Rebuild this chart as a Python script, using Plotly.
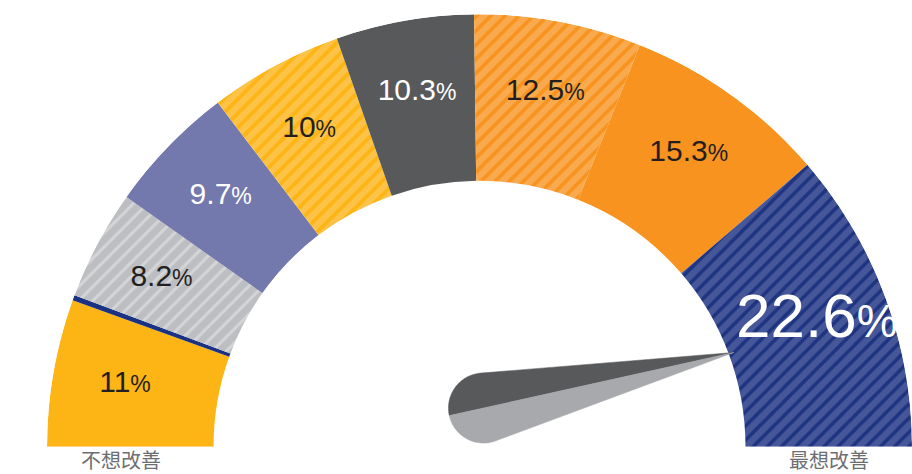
import numpy as np
import plotly.graph_objects as go

# Share of respondents per level, from "least" to "most" wanting improvement
labels = ["11%", "0.4%", "8.2%", "9.7%", "10%", "10.3%", "12.5%", "15.3%", "22.6%"]
values = [11, 0.4, 8.2, 9.7, 10, 10.3, 12.5, 15.3, 22.6]

base_colors = ["#FDB515", "#1B3182", "#D4D5D7", "#7479AD", "#FDB515",
               "#58595B", "#F7931E", "#F7931E", "#1E3481"]
stripe_colors = [None, None, "#A6A8AB", None, "#FED27E",
                 None, "#FBC27E", None, "#6E7AB1"]
stripe_solidity = [0, 0, 0.7, 0, 0.6, 0, 0.62, 0, 0.65]
text_colors = ["#231F20", "#58595B", "#231F20", "#FFFFFF", "#231F20",
               "#FFFFFF", "#231F20", "#231F20", "#FFFFFF"]
end_labels = ["不想改善", "最想改善"]

INNER = 0.615          # inner radius of the band (fraction of outer radius)
LABEL_R = 0.832        # radius where the value labels sit
OUTSIDE_R = 1.083      # radius for labels of very thin segments

vals = np.array(values, dtype=float)
spans = 180.0 * vals / vals.sum()
centers = np.cumsum(spans) - spans / 2

fig = go.Figure()

# Gauge band, one trace per segment so each gets its own hatch
for i in range(len(vals)):
    marker = dict(color=base_colors[i], line=dict(width=0))
    if stripe_colors[i]:
        marker["pattern"] = dict(shape="/", fgcolor=stripe_colors[i],
                                 bgcolor=base_colors[i], size=10,
                                 solidity=stripe_solidity[i], fillmode="overlay")
    fig.add_trace(go.Barpolar(
        theta=[centers[i]], width=[spans[i]], base=[INNER], r=[1 - INNER],
        marker=marker, hoverinfo="skip", showlegend=False,
    ))

# Value labels: thin segments get their label outside the band
big = int(np.argmax(vals))
label_r, label_txt, label_size = [], [], []
for i, (lab, v) in enumerate(zip(labels, vals)):
    num = lab.rstrip("%")
    if i == big:
        size, psize = 62, 46
    else:
        size, psize = 30, 23
    label_txt.append(f"{num}<span style='font-size:{psize}px'>%</span>")
    label_size.append(size)
    label_r.append(OUTSIDE_R if v < 2 else LABEL_R)

fig.add_trace(go.Scatterpolar(
    r=label_r, theta=centers, mode="text", text=label_txt,
    textposition="middle center",
    textfont=dict(family="Liberation Sans, Arial, sans-serif",
                  size=label_size, color=text_colors),
    cliponaxis=False, hoverinfo="skip", showlegend=False,
))

# Needle: pivot slightly above the gauge centre, pointing at the largest segment
hub_r, hub_theta, hub_rad = 0.09, 95.9, 0.081
tip_r, tip_theta = 0.627, centers[big]


def to_xy(r, th):
    a = np.radians(180 - th)
    return r * np.cos(a), r * np.sin(a)


def to_polar(x, y):
    r = np.hypot(x, y)
    th = 180 - np.degrees(np.arctan2(y, x))
    return r, th


cx, cy = to_xy(hub_r, hub_theta)
tx, ty = to_xy(tip_r, tip_theta)
phi = np.arctan2(ty - cy, tx - cx)
d = np.hypot(tx - cx, ty - cy)
off = np.arccos(hub_rad / d)

upper = np.linspace(phi + off, phi + np.pi, 60)
lower = np.linspace(phi + np.pi, phi + 2 * np.pi - off, 60)

xs_dark = np.concatenate([[tx], cx + hub_rad * np.cos(upper), [tx]])
ys_dark = np.concatenate([[ty], cy + hub_rad * np.sin(upper), [ty]])
xs_light = np.concatenate([[tx], cx + hub_rad * np.cos(lower), [tx]])
ys_light = np.concatenate([[ty], cy + hub_rad * np.sin(lower), [ty]])

for xs, ys, col in [(xs_dark, ys_dark, "#58595B"), (xs_light, ys_light, "#A7A9AC")]:
    rr, tt = to_polar(xs, ys)
    fig.add_trace(go.Scatterpolar(
        r=rr, theta=tt, mode="lines", fill="toself", fillcolor=col,
        line=dict(width=0.5, color=col), hoverinfo="skip", showlegend=False,
    ))

label_font = dict(family="Noto Sans CJK TC, sans-serif", size=20, color="#6D6E71")
fig.update_layout(
    width=912, height=474,
    margin=dict(l=47, r=0, t=14, b=27),
    paper_bgcolor="white",
    plot_bgcolor="white",
    polar=dict(
        sector=[0, 180],
        bgcolor="white",
        bargap=0,
        domain=dict(x=[0, 1], y=[0, 1]),
        radialaxis=dict(range=[0, 1], visible=False),
        angularaxis=dict(rotation=180, direction="clockwise", visible=False,
                         showgrid=False, showline=False, ticks=""),
    ),
    annotations=[
        dict(text=end_labels[0], x=(121 - 47) / 865, y=-0.029, xref="paper",
             yref="paper", showarrow=False, xanchor="center", yanchor="middle",
             font=label_font),
        dict(text=end_labels[1], x=(829 - 47) / 865, y=-0.029, xref="paper",
             yref="paper", showarrow=False, xanchor="center", yanchor="middle",
             font=label_font),
    ],
)

fig.write_html("out.html")
